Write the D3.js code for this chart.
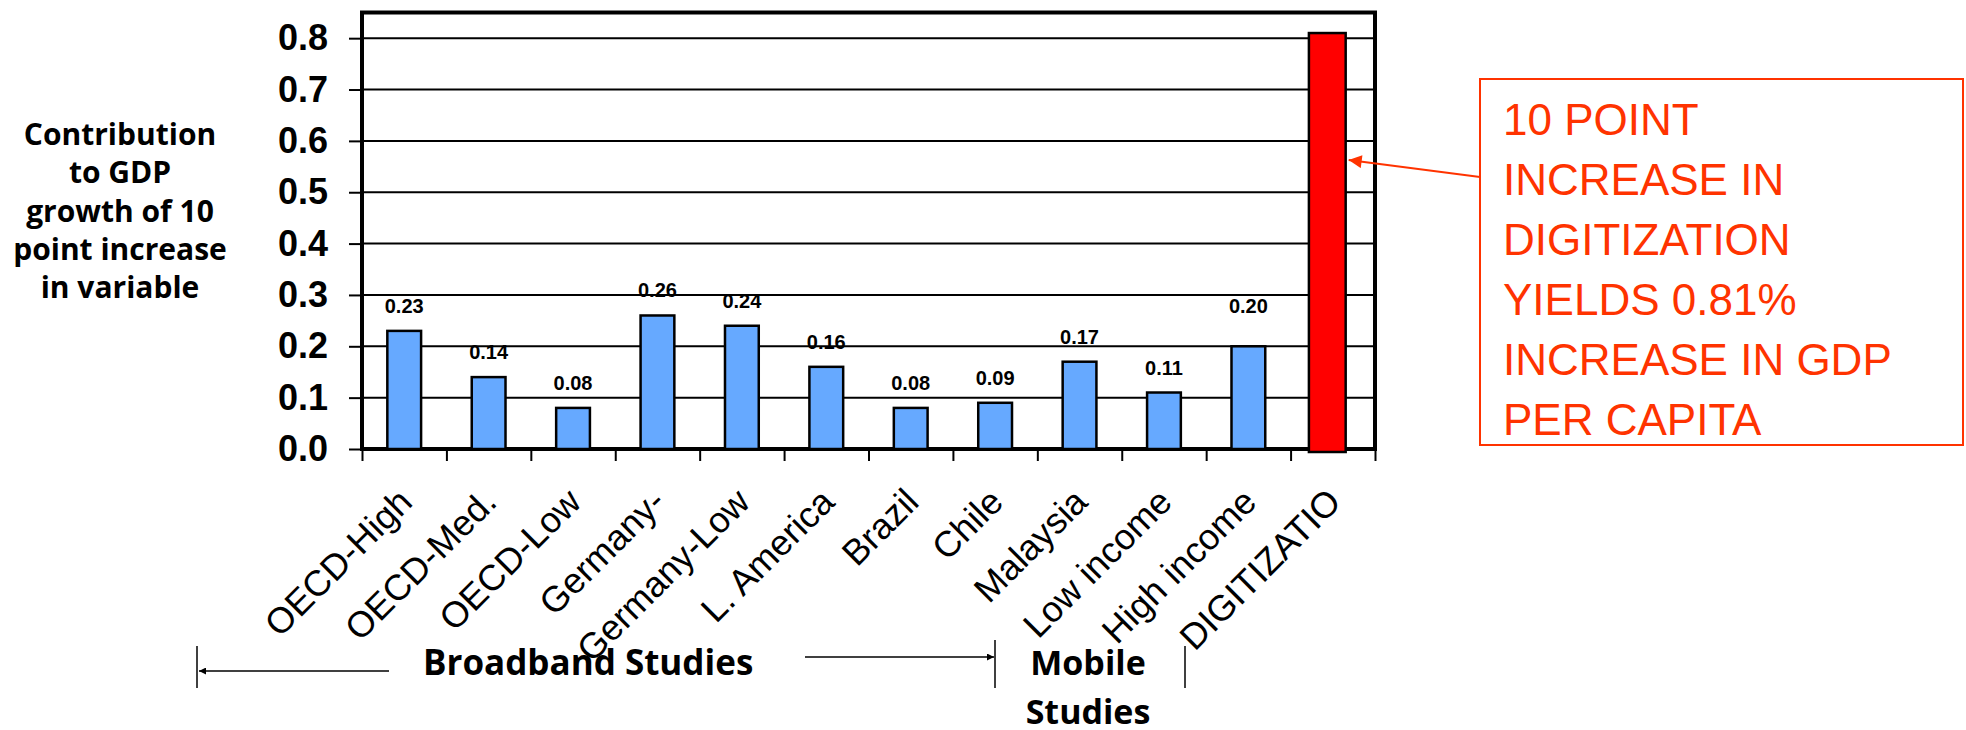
<!DOCTYPE html>
<html>
<head>
<meta charset="utf-8">
<script src="https://cdn.jsdelivr.net/npm/d3@7"></script>
<style>
  html, body { margin: 0; padding: 0; background: #fff; }
  svg { display: block; }
</style>
</head>
<body>
<svg id="chart" width="1966" height="730"></svg>
<script>
// Contribution to GDP growth of a 10 point increase in each variable
const categories = ["OECD-High", "OECD-Med.", "OECD-Low", "Germany-", "Germany-Low", "L. America",
                    "Brazil", "Chile", "Malaysia", "Low income", "High income", "DIGITIZATIO"];
const values = [0.23, 0.14, 0.08, 0.26, 0.24, 0.16, 0.08, 0.09, 0.17, 0.11, 0.20, 0.81];
const highlighted = ["DIGITIZATIO"];
const yTicks = [0.0, 0.1, 0.2, 0.3, 0.4, 0.5, 0.6, 0.7, 0.8];
const yTitleLines = ["Contribution", "to GDP", "growth of 10", "point increase", "in variable"];
const calloutLines = ["10 POINT", "INCREASE IN", "DIGITIZATION", "YIELDS 0.81%", "INCREASE IN GDP", "PER CAPITA"];

const svg = d3.select("#chart");
const plot = { left: 362, right: 1375, top: 12.5, bottom: 449 };
const ARIAL = "'Liberation Sans', Arial, sans-serif";
const SANS_BOLD = "'Open Sans', 'Noto Sans', sans-serif";
const ORANGE_RED = "#ff3300";

const x = d3.scaleBand().domain(categories).range([plot.left, plot.right])
  .paddingInner(0.6).paddingOuter(0.3);
const xEdge = d3.scaleLinear().domain([0, categories.length]).range([plot.left, plot.right]);
const y = d3.scaleLinear().domain([0, 0.85]).range([plot.bottom, plot.top]);

// The highlighted bar sits slightly left of its slot and is a little wider
const isHi = c => highlighted.includes(c);
const barX = c => x(c) + (isHi(c) ? -7 : 0);
const barW = c => x.bandwidth() + (isHi(c) ? 3 : 0);

const defs = svg.append("defs");
defs.append("marker").attr("id", "arrowBlack")
  .attr("viewBox", "0 0 10 10").attr("refX", 10).attr("refY", 5)
  .attr("markerWidth", 7).attr("markerHeight", 7).attr("markerUnits", "userSpaceOnUse")
  .attr("orient", "auto")
  .append("path").attr("d", "M0,0 L10,5 L0,10 Z").attr("fill", "#000");
defs.append("marker").attr("id", "arrowRed")
  .attr("viewBox", "0 0 10 10").attr("refX", 10).attr("refY", 5)
  .attr("markerWidth", 15).attr("markerHeight", 13).attr("markerUnits", "userSpaceOnUse")
  .attr("orient", "auto")
  .append("path").attr("d", "M0,0 L10,5 L0,10 Z").attr("fill", ORANGE_RED);

// Horizontal gridlines
svg.append("g").selectAll("line")
  .data(yTicks.filter(d => d > 0))
  .join("line")
  .attr("x1", plot.left).attr("x2", plot.right)
  .attr("y1", d => y(d)).attr("y2", d => y(d))
  .attr("stroke", "#000").attr("stroke-width", 2);

// Plot frame
svg.append("rect")
  .attr("x", plot.left).attr("y", plot.top)
  .attr("width", plot.right - plot.left).attr("height", plot.bottom - plot.top)
  .attr("fill", "none").attr("stroke", "#000").attr("stroke-width", 4);

// Y axis
const yAxis = svg.append("g")
  .attr("transform", `translate(${plot.left},0)`)
  .call(d3.axisLeft(y).tickValues(yTicks).tickFormat(d3.format(".1f")).tickSize(13).tickPadding(21));
yAxis.select(".domain").remove();
yAxis.selectAll(".tick line").attr("stroke", "#000").attr("stroke-width", 2);
yAxis.selectAll(".tick text")
  .attr("font-family", ARIAL).attr("font-weight", "bold").attr("font-size", 36).attr("fill", "#000");

// X axis tick marks at category boundaries
const xAxis = svg.append("g")
  .attr("transform", `translate(0,${plot.bottom})`)
  .call(d3.axisBottom(xEdge).tickValues(d3.range(categories.length + 1)).tickFormat("").tickSize(12));
xAxis.select(".domain").remove();
xAxis.selectAll(".tick line").attr("stroke", "#000").attr("stroke-width", 2);

// Bars
svg.append("g").selectAll("rect")
  .data(categories.map((c, i) => ({ c, v: values[i] })))
  .join("rect")
  .attr("x", d => barX(d.c))
  .attr("width", d => barW(d.c))
  .attr("y", d => y(d.v))
  .attr("height", d => y(0) - y(d.v) + (isHi(d.c) ? 3 : 0))
  .attr("fill", d => isHi(d.c) ? "#ff0000" : "#66a9ff")
  .attr("stroke", "#000").attr("stroke-width", 2.5);

// Value labels above the study bars
const fmt = d3.format(".2f");
svg.append("g").selectAll("text")
  .data(categories.map((c, i) => ({ c, v: values[i] })).filter(d => !isHi(d.c)))
  .join("text")
  .attr("x", d => x(d.c) + x.bandwidth() / 2)
  .attr("y", d => y(d.v) - 18 - (d.c === "High income" ? 15 : 0))
  .attr("text-anchor", "middle")
  .attr("font-family", ARIAL).attr("font-weight", "bold").attr("font-size", 20)
  .text(d => fmt(d.v));

// Rotated category labels
svg.append("g").selectAll("text")
  .data(categories)
  .join("text")
  .attr("transform", d => `translate(${x(d) + x.bandwidth() / 2 + 10},${plot.bottom + 55}) rotate(-45)`)
  .attr("text-anchor", "end")
  .attr("font-family", ARIAL).attr("font-size", 36).attr("fill", "#000")
  .text(d => d);

// Y axis title
svg.append("text")
  .attr("font-family", SANS_BOLD).attr("font-weight", "bold").attr("font-size", 30)
  .attr("text-anchor", "middle")
  .selectAll("tspan")
  .data(yTitleLines)
  .join("tspan")
  .attr("x", 120).attr("y", (d, i) => 145 + i * 38.3)
  .text(d => d);

// Study group brackets below the axis
const bracket = svg.append("g").attr("stroke", "#000").attr("stroke-width", 1.5);
bracket.append("line").attr("x1", 197).attr("x2", 197).attr("y1", 646).attr("y2", 688);
bracket.append("line").attr("x1", 389).attr("x2", 199).attr("y1", 671).attr("y2", 671)
  .attr("marker-end", "url(#arrowBlack)");
bracket.append("line").attr("x1", 805).attr("x2", 994).attr("y1", 657).attr("y2", 657)
  .attr("marker-end", "url(#arrowBlack)");
bracket.append("line").attr("x1", 995).attr("x2", 995).attr("y1", 640).attr("y2", 688);
bracket.append("line").attr("x1", 1185).attr("x2", 1185).attr("y1", 646).attr("y2", 688);

svg.append("text").attr("x", 423).attr("y", 675)
  .attr("font-family", SANS_BOLD).attr("font-weight", "bold").attr("font-size", 35)
  .text("Broadband Studies");
svg.append("text").attr("x", 1088).attr("y", 675).attr("text-anchor", "middle")
  .attr("font-family", SANS_BOLD).attr("font-weight", "bold").attr("font-size", 34)
  .text("Mobile");
svg.append("text").attr("x", 1088).attr("y", 724).attr("text-anchor", "middle")
  .attr("font-family", SANS_BOLD).attr("font-weight", "bold").attr("font-size", 34)
  .text("Studies");

// Callout box with pointer to the digitization bar
const box = { x: 1480, y: 79, w: 483, h: 366 };
svg.append("rect")
  .attr("x", box.x).attr("y", box.y).attr("width", box.w).attr("height", box.h)
  .attr("fill", "#fff").attr("stroke", ORANGE_RED).attr("stroke-width", 2);
svg.append("text")
  .attr("font-family", ARIAL).attr("font-size", 44).attr("fill", ORANGE_RED)
  .selectAll("tspan")
  .data(calloutLines)
  .join("tspan")
  .attr("x", 1503).attr("y", (d, i) => 135 + i * 60)
  .text(d => d);

const digit = highlighted[0];
svg.append("line")
  .attr("x1", box.x).attr("y1", 177)
  .attr("x2", barX(digit) + barW(digit) + 3).attr("y2", 160)
  .attr("stroke", ORANGE_RED).attr("stroke-width", 2)
  .attr("marker-end", "url(#arrowRed)");
</script>
</body>
</html>
